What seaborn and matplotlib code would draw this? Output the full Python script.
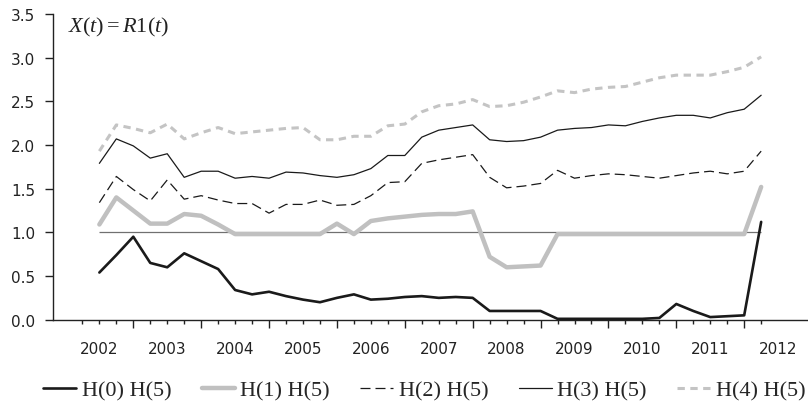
import numpy as np
import pandas as pd
import matplotlib
matplotlib.use("Agg")
import matplotlib.pyplot as plt
from matplotlib.ticker import FixedLocator, FixedFormatter
import seaborn as sns

# ==========================================
# DATA (quarterly, 2002Q3 - 2012Q2)
# ==========================================
quarters = pd.period_range("2002Q3", "2012Q2", freq="Q")

h0 = [0.54, 0.74, 0.95, 0.65, 0.60, 0.76, 0.67, 0.58, 0.34, 0.29,
      0.32, 0.27, 0.23, 0.20, 0.25, 0.29, 0.23, 0.24, 0.26, 0.27,
      0.25, 0.26, 0.25, 0.10, 0.10, 0.10, 0.10, 0.01, 0.01, 0.01,
      0.01, 0.01, 0.01, 0.02, 0.18, 0.10, 0.03, 0.04, 0.05, 1.12]
h1 = [1.09, 1.40, 1.25, 1.10, 1.10, 1.21, 1.19, 1.09, 0.98, 0.98,
      0.98, 0.98, 0.98, 0.98, 1.10, 0.98, 1.13, 1.16, 1.18, 1.20,
      1.21, 1.21, 1.24, 0.72, 0.60, 0.61, 0.62, 0.98, 0.98, 0.98,
      0.98, 0.98, 0.98, 0.98, 0.98, 0.98, 0.98, 0.98, 0.98, 1.52]
h2 = [1.34, 1.64, 1.49, 1.36, 1.60, 1.38, 1.42, 1.37, 1.33, 1.33,
      1.22, 1.32, 1.32, 1.37, 1.31, 1.32, 1.42, 1.57, 1.58, 1.79,
      1.83, 1.86, 1.89, 1.63, 1.51, 1.53, 1.56, 1.71, 1.62, 1.65,
      1.67, 1.66, 1.64, 1.62, 1.65, 1.68, 1.70, 1.67, 1.70, 1.93]
h3 = [1.79, 2.07, 1.99, 1.85, 1.90, 1.63, 1.70, 1.70, 1.62, 1.64,
      1.62, 1.69, 1.68, 1.65, 1.63, 1.66, 1.73, 1.88, 1.88, 2.09,
      2.17, 2.20, 2.23, 2.06, 2.04, 2.05, 2.09, 2.17, 2.19, 2.20,
      2.23, 2.22, 2.27, 2.31, 2.34, 2.34, 2.31, 2.37, 2.41, 2.57]
h4 = [1.93, 2.23, 2.19, 2.14, 2.24, 2.07, 2.14, 2.20, 2.13, 2.15,
      2.17, 2.19, 2.20, 2.06, 2.06, 2.10, 2.10, 2.22, 2.24, 2.38,
      2.45, 2.47, 2.52, 2.44, 2.45, 2.49, 2.55, 2.62, 2.60, 2.64,
      2.66, 2.67, 2.72, 2.77, 2.80, 2.80, 2.80, 2.84, 2.89, 3.01]

series_labels = ["H(0) H(5)", "H(1) H(5)", "H(2) H(5)", "H(3) H(5)", "H(4) H(5)"]
years = list(range(2002, 2013))
y_ticks = [0.0, 0.5, 1.0, 1.5, 2.0, 2.5, 3.0, 3.5]

# posisi waktu dalam tahun desimal
t = quarters.year + (quarters.quarter - 1) * 0.25

df = pd.DataFrame({"t": t, "h0": h0, "h1": h1, "h2": h2, "h3": h3, "h4": h4})

# ==========================================
# STYLE
# ==========================================
sns.set_theme(style="ticks")
plt.rcParams["font.family"] = ["DejaVu Sans"]
plt.rcParams["mathtext.fontset"] = "custom"
plt.rcParams["mathtext.rm"] = "Liberation Serif"
plt.rcParams["mathtext.it"] = "Liberation Serif:italic"

styles = [
    dict(color="#1a1a1a", lw=1.9, ls="-"),
    dict(color="#c0c0c0", lw=3.2, ls="-"),
    dict(color="#1a1a1a", lw=0.9, ls=(0, (8, 4))),
    dict(color="#1a1a1a", lw=0.9, ls="-"),
    dict(color="#c4c4c4", lw=2.2, ls=(0, (2.4, 1.8))),
]

fig = plt.figure(figsize=(8.08, 4.02), dpi=100)
ax = fig.add_axes([53 / 808, 1 - 320.7 / 402, 755 / 808, 305.7 / 402])

# garis referensi di 1.0
ax.hlines(1.0, t[0], t[-1], color="#707070", lw=0.9, zorder=1)

for col, lab, st in zip(["h0", "h1", "h2", "h3", "h4"], series_labels, styles):
    sns.lineplot(data=df, x="t", y=col, ax=ax, label=lab, legend=False,
                 color=st["color"], linewidth=st["lw"], linestyle=st["ls"],
                 zorder=3)

ax.set_xlim(2001.817, 2012.94)
ax.set_ylim(0, 3.5)
ax.set_xlabel("")
ax.set_ylabel("")

# sumbu y
ax.set_yticks(y_ticks)
ax.set_yticklabels([f"{v:.1f}" for v in y_ticks])
ax.tick_params(axis="y", length=5.8, width=1, pad=7, labelsize=11,
               colors="#222222")

# sumbu x: tick tahun (tanpa label) + tick kuartal, label di tengah tahun
major_pos = years[1:]
minor_pos = [y + q for y in years for q in (0.25, 0.5, 0.75)
             if y + q <= 2012.5]
minor_lab = [str(int(p)) if (p % 1) == 0.5 else "" for p in minor_pos]
ax.xaxis.set_major_locator(FixedLocator(major_pos))
ax.xaxis.set_major_formatter(FixedFormatter([""] * len(major_pos)))
ax.xaxis.set_minor_locator(FixedLocator(minor_pos))
ax.xaxis.set_minor_formatter(FixedFormatter(minor_lab))
ax.tick_params(axis="x", which="major", length=5.8, width=1, colors="#222222")
ax.tick_params(axis="x", which="minor", length=3.1, width=1, pad=12,
               labelsize=11, colors="#222222")
# tick terakhir (2012.5) hanya untuk label, garisnya disembunyikan
ax.xaxis.get_minor_ticks()[-1].tick1line.set_visible(False)

for side in ["top", "right"]:
    ax.spines[side].set_visible(False)
for side in ["left", "bottom"]:
    ax.spines[side].set_linewidth(1.0)
    ax.spines[side].set_color("#222222")

ax.text(0.02, 0.96, r"$X(t) = R1(t)$", transform=ax.transAxes,
        fontsize=16, va="center", ha="left", color="#222222")

handles, labels = ax.get_legend_handles_labels()
fig.legend(handles, labels, loc="center left", bbox_to_anchor=(43 / 808, 11 / 402),
           ncol=5, frameon=False, borderpad=0, borderaxespad=0,
           handlelength=1.5, handletextpad=0.25, columnspacing=1.35,
           prop={"family": "Liberation Serif", "size": 16})

fig.savefig("out.png", dpi=100)
